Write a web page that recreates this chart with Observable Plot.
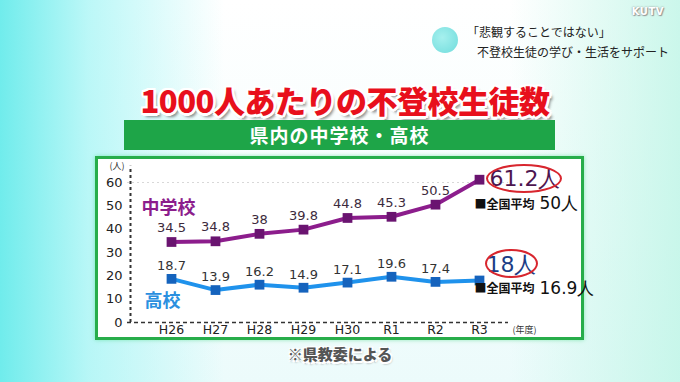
<!DOCTYPE html>
<html>
<head>
<meta charset="utf-8">
<script src="https://cdn.jsdelivr.net/npm/d3@7"></script>
<script src="https://cdn.jsdelivr.net/npm/@observablehq/plot@0.6"></script>
<style>
  html, body { margin: 0; padding: 0; }
  body {
    width: 680px; height: 382px; overflow: hidden; position: relative;
    font-family: "Noto Sans CJK JP", "Noto Sans", sans-serif;
    background:
      linear-gradient(90deg, rgba(105,235,235,0.95) 0%, rgba(165,245,245,0.75) 13%, rgba(255,255,255,0) 33%, rgba(255,255,255,0) 75%, rgba(190,245,230,0.8) 100%),
      linear-gradient(180deg, #ffffff 0%, #f4fdfd 60%, #ecfbfb 100%);
  }
  .abs { position: absolute; white-space: nowrap; }
  #badge { left: 432px; top: 27px; width: 26px; height: 26px; border-radius: 50%;
    background: radial-gradient(circle at 40% 40%, #a6f0ee, #6fdcdc); }
  .sub { font-size: 12px; color: #222; }
  #kutv { right: 16px; top: 6px; font-size: 10px; font-weight: 900; color: #fff; font-family: "DejaVu Sans", sans-serif;
    text-shadow: 0 0 2px #888, 1px 1px 1px #999; letter-spacing: 0.5px; }
  #title { left: 0; width: 690px; text-align: center; top: 77px; font-size: 31px; font-weight: 900; color: #e8101c;
    letter-spacing: -0.5px;
    text-shadow: -2px -2px 0 #fff, 2px -2px 0 #fff, -2px 2px 0 #fff, 2px 2px 0 #fff,
                 0 -2.5px 0 #fff, 0 2.5px 0 #fff, -2.5px 0 0 #fff, 2.5px 0 0 #fff,
                 3px 4px 3px rgba(0,0,0,0.45); }
  #band { left: 124px; top: 120px; width: 431px; height: 30px; background: #1ea548;
    color: #fff; font-weight: 700; font-size: 19px; text-align: center; line-height: 30px; letter-spacing: 1px; }
  #box { left: 95px; top: 156px; width: 483px; height: 178px; background: #fff; border: 3px solid #27ad4a;
    box-shadow: 0 0 4px rgba(80,220,140,0.6); }
  #chart { position: absolute; left: 0; top: 157px; }
  .ell { position: absolute; border: 2px solid #d8262e; border-radius: 50%; box-sizing: border-box; }
  #caption { left: 0; width: 680px; text-align: center; top: 343px; font-size: 15px; font-weight: 900; color: #555;
    text-shadow: -1.5px -1.5px 0 #fff, 1.5px -1.5px 0 #fff, -1.5px 1.5px 0 #fff, 1.5px 1.5px 0 #fff,
                 1px 2px 2px rgba(0,0,0,0.5); }
</style>
</head>
<body>
<div id="badge" class="abs"></div>
<div class="abs sub" style="left:467px; top:23px;">「悲観することではない」</div>
<div class="abs sub" style="left:477px; top:43px;">不登校生徒の学び・生活をサポート</div>
<div id="kutv" class="abs">KUTV</div>
<div id="title" class="abs">1000人あたりの不登校生徒数</div>
<div id="band" class="abs">県内の中学校・高校</div>
<div id="box" class="abs"></div>
<div id="chart"></div>
<div class="ell" style="left:486px; top:164px; width:76px; height:29px;"></div>
<div class="ell" style="left:485px; top:249px; width:53px; height:29px;"></div>
<div id="caption" class="abs">※県教委による</div>
<script>
// ---- data ----
const years = ["H26", "H27", "H28", "H29", "H30", "R1", "R2", "R3"];
const juniorHigh = [34.5, 34.8, 38, 39.8, 44.8, 45.3, 50.5, 61.2];
const highSchool = [18.7, 13.9, 16.2, 14.9, 17.1, 19.6, 17.4, 18];
const nationalAvg = { juniorHigh: 50, highSchool: 16.9 };
const yTicks = [0, 10, 20, 30, 40, 50, 60];
const seriesNames = { juniorHigh: "中学校", highSchool: "高校" };

const jh = years.map((y, i) => ({ year: y, v: juniorHigh[i] }));
const hs = years.map((y, i) => ({ year: y, v: highSchool[i] }));
const jhLast = jh[jh.length - 1], hsLast = hs[hs.length - 1];

const purple = "#8c1d8c", purpleDark = "#6a1470";
const blue = "#1f92ec", blueDark = "#1563bd";
const numFont = "DejaVu Sans, sans-serif";

const chart = Plot.plot({
  width: 680, height: 183,
  marginLeft: 127, marginRight: 172, marginTop: 25, marginBottom: 18,
  style: { background: "transparent", fontFamily: "Noto Sans CJK JP, sans-serif", overflow: "visible" },
  x: { type: "point", domain: years, padding: 0, insetLeft: 41, insetRight: 27 },
  y: { domain: [0, 60] },
  marks: [
    Plot.ruleY([60], { stroke: "#d8d8d8", strokeDasharray: "2,3" }),
    Plot.ruleY([0], { stroke: "#333", strokeWidth: 1.5, strokeDasharray: "4,3" }),
    Plot.ruleX([years[0]], { dx: -41, y1: 0, y2: 67, stroke: "#333", strokeWidth: 2, strokeDasharray: "3,3" }),
    Plot.axisY({ ticks: yTicks, tickSize: 0, tickPadding: 5, fontSize: 13, fontFamily: numFont, fill: "#222", label: null }),
    Plot.axisX({ tickSize: 0, tickPadding: 3, fontSize: 12.5, fontFamily: numFont, fill: "#222", label: null }),
    Plot.text(["(人)"], { frameAnchor: "top-left", dx: -3, dy: -20, fontSize: 9, fill: "#333", textAnchor: "end" }),
    Plot.text(["(年度)"], { frameAnchor: "bottom-right", dx: 4, dy: 10, fontSize: 9, fill: "#333", textAnchor: "start" }),
    // lines
    Plot.line(jh, { x: "year", y: "v", stroke: purple, strokeWidth: 4 }),
    Plot.line(hs, { x: "year", y: "v", stroke: blue, strokeWidth: 4 }),
    Plot.dot(jh, { x: "year", y: "v", symbol: "square", r: 5.5, fill: purpleDark }),
    Plot.dot(hs, { x: "year", y: "v", symbol: "square", r: 5.5, fill: blueDark }),
    // value labels
    Plot.text(jh.slice(0, -1), { x: "year", y: "v", text: d => String(d.v), dy: -14, fontSize: 13, fontFamily: numFont, fill: "#3c2a3c" }),
    Plot.text(hs.slice(0, -1), { x: "year", y: "v", text: d => String(d.v), dy: -13, fontSize: 13, fontFamily: numFont, fill: "#333" }),
    // series names
    Plot.text([seriesNames.juniorHigh], { x: () => years[0], y: () => 49, dx: -3, fontSize: 18, fontWeight: 700, fill: purple }),
    Plot.text([seriesNames.highSchool], { x: () => years[0], y: () => 9, dx: -9, fontSize: 18, fontWeight: 700, fill: "#2a8fdf", letterSpacing: 6 }),
    // end annotations
    Plot.text([jhLast], { x: "year", y: "v", text: d => d.v + "人", dx: 10, dy: -1, textAnchor: "start", fontSize: 22, fontFamily: numFont, fill: "#4d1650" }),
    Plot.text([hsLast], { x: "year", y: "v", text: d => d.v + "人", dx: 7, dy: -16, textAnchor: "start", fontSize: 22, fontFamily: numFont, fill: "#1b3d86" }),
    Plot.text([jhLast], { x: "year", y: "v", text: () => "■全国平均", dx: -5, dy: 25, textAnchor: "start", fontSize: 12, fontWeight: 700, fill: "#111" }),
    Plot.text([jhLast], { x: "year", y: "v", text: () => nationalAvg.juniorHigh + "人", dx: 60, dy: 24, textAnchor: "start", fontSize: 17, fontFamily: numFont, fill: "#111" }),
    Plot.text([hsLast], { x: "year", y: "v", text: () => "■全国平均", dx: -5, dy: 9, textAnchor: "start", fontSize: 12, fontWeight: 700, fill: "#111" }),
    Plot.text([hsLast], { x: "year", y: "v", text: () => nationalAvg.highSchool + "人", dx: 60, dy: 8, textAnchor: "start", fontSize: 17, fontFamily: numFont, fill: "#111" })
  ]
});
document.getElementById("chart").appendChild(chart);
</script>
</body>
</html>
